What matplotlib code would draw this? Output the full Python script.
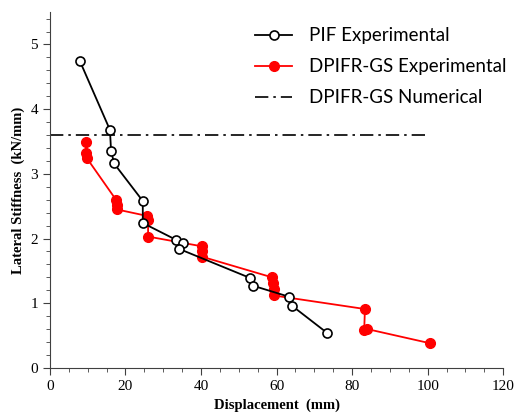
#!/usr/bin/env python3

import numpy as np
import matplotlib
matplotlib.use("Agg")
import matplotlib.pyplot as plt
from matplotlib.ticker import MultipleLocator

# PIF experimental
pif_disp = [7.9, 15.9, 16.2, 17.0, 24.6, 24.6, 33.4, 35.2, 34.2, 53.0, 53.8, 63.3, 64.1, 73.4]
pif_stiff = [4.75, 3.68, 3.36, 3.16, 2.58, 2.24, 1.98, 1.93, 1.84, 1.39, 1.27, 1.10, 0.96, 0.54]

# DPIFR-GS experimental
gs_disp = [9.5, 9.5, 9.7, 17.5, 17.7, 17.7, 25.7, 26.0, 26.0, 40.2, 40.2, 40.2,
           58.8, 59.0, 59.2, 59.2, 83.4, 83.2, 84.0, 100.7]
gs_stiff = [3.50, 3.33, 3.25, 2.60, 2.52, 2.45, 2.35, 2.28, 2.03, 1.88, 1.80, 1.72,
            1.40, 1.32, 1.22, 1.12, 0.91, 0.58, 0.60, 0.38]

# DPIFR-GS numerical
num_disp = [0, 100]
num_stiff = [3.6, 3.6]

fig = plt.figure(figsize=(5.14, 4.19), dpi=100)
ax = fig.add_axes([0.097, 0.122, 0.882, 0.849])

ax.plot(pif_disp, pif_stiff, color='black', lw=1.3, marker='o', ms=6.5,
        mfc='white', mec='black', mew=1.2, label='PIF Experimental', zorder=3)
ax.plot(gs_disp, gs_stiff, color='red', lw=1.3, marker='o', ms=7,
        mfc='red', mec='red', label='DPIFR-GS Experimental', zorder=2)
ax.plot(num_disp, num_stiff, color='black', lw=1.2, ls=(0, (8, 3, 1.5, 3)),
        label='DPIFR-GS Numerical', zorder=1)

ax.set_xlim(0, 120)
ax.set_ylim(0, 5.5)
ax.xaxis.set_major_locator(MultipleLocator(20))
ax.xaxis.set_minor_locator(MultipleLocator(5))
ax.yaxis.set_major_locator(MultipleLocator(1))
ax.yaxis.set_minor_locator(MultipleLocator(0.2))
for s in ['top', 'right']:
    ax.spines[s].set_visible(False)
for s in ['left', 'bottom']:
    ax.spines[s].set_color('#404040')
ax.tick_params(which='both', direction='out', colors='#404040')
ax.tick_params(which='major', length=5)
ax.tick_params(which='minor', length=3)
for lab in ax.get_xticklabels() + ax.get_yticklabels():
    lab.set_fontfamily('Liberation Serif')
    lab.set_fontsize(11)
    lab.set_color('black')

ax.set_xlabel('Displacement  (mm)', family='Liberation Serif', fontsize=10.5,
              fontweight='bold', labelpad=4)
ax.set_ylabel('Lateral Stiffness  (kN/mm)', family='Liberation Serif', fontsize=10.5,
              fontweight='bold', labelpad=4)

ax.legend(loc='upper left', bbox_to_anchor=(0.415, 1.005), frameon=False,
          prop={'family': 'Lato', 'size': 13.5}, handlelength=2.0,
          labelspacing=0.75, handletextpad=0.9)

fig.savefig('out.png', dpi=100)
